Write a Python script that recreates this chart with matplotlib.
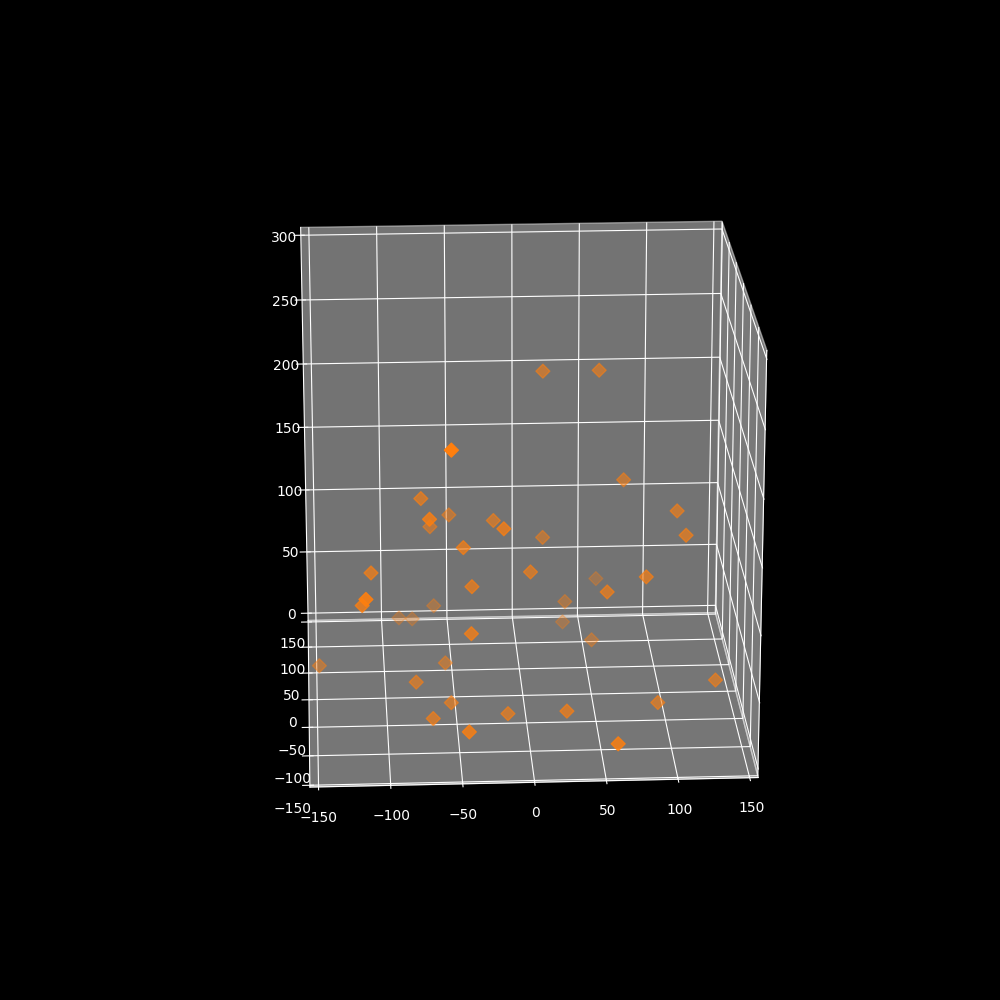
import matplotlib
matplotlib.use("Agg")
import matplotlib.pyplot as plt

plt.style.use("dark_background")

# values
xs = [18, 59, -56, 76, 112, 117, -73, -51, -69, -65, -20, -16, 18, -44, -110, 5, -38, 63, 87, 59,
      37, -115, -117, -61, -87, -77, 37, -40, 56, -55, -148, -78, -53, -67, -13, 28, -44, 59, 96, 138]
ys = [65, 65, -140, 46, 9, -9, 9, 65, -65, 65, 28, -47, 65, -28, -28, -9, -28, 140, -28, -28,
      102, -121, -65, 121, 135, 135, 128, -65, 84, 45, 54, -9, -20, -48, -42, -65, -121, -140, -32, -28]
zs = [221, 221, 235, 143, 132, 120, 145, 111, 157, 102, 120, 142, 92, 121, 103, 94, 91, 29, 96, 85,
      26, 120, 93, 17, 2, 1, -1, 70, 2, 2, -2, 10, -2, -2, -2, 9, 19, 16, 0, 15]

x_ticks = [-150, -100, -50, 0, 50, 100, 150]
y_ticks = [-150, -100, -50, 0, 50, 100, 150]
z_ticks = [0, 50, 100, 150, 200, 250, 300]

fig = plt.figure(figsize=(10, 10), dpi=100)
ax = fig.add_subplot(projection="3d")
ax.scatter(xs, ys, zs, c="#ff7f0e", marker="D", s=50)

ax.set_xlim(-156, 156)
ax.set_ylim(-153, 153)
ax.set_zlim(-6, 306)
ax.set_xticks(x_ticks)
ax.set_yticks(y_ticks)
ax.set_zticks(z_ticks)
ax.set_box_aspect((1, 1, 1), zoom=0.95)
ax.view_init(elev=20, azim=-93)

fig.savefig("out.png")
